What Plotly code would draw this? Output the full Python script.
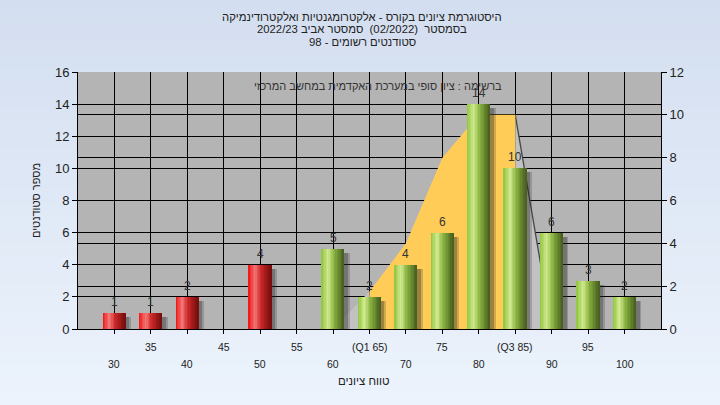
import plotly.graph_objects as go

# ---------------- data ----------------
grades = [30, 35, 40, 45, 50, 55, 60, 65, 70, 75, 80, 85, 90, 95, 100]
counts = [1, 1, 2, 0, 4, 0, 5, 2, 4, 6, 14, 10, 6, 3, 2]
tick_labels = ["30", "35", "40", "45", "50", "55", "60", "(Q1 65)", "70", "75",
               "80", "(Q3 85)", "90", "95", "100"]
pass_grade = 60
q1, q3 = 65, 85
curve_x = [60, 65, 70, 75, 80, 85, 90]
curve_y = [0, 1.75, 4, 8, 10, 10, 0]

title_lines = [
    "היסטוגרמת ציונים בקורס - אלקטרומגנטיות ואלקטרודינמיקה",
    "בסמסטר  (02/2022)  סמסטר אביב 2022/23",
    "סטודנטים רשומים - 98",
]
legend_text = "ברשימה : ציון סופי במערכת האקדמית במחשב המרכזי"
y_title = "מספר סטודנטים"
x_title = "טווח ציונים"

# ---------------- style ----------------
FONT = "Liberation Sans, Arial, sans-serif"
W, H = 720, 405
ML, MR, MT, MB = 78, 59, 72, 76
PW, PH = W - ML - MR, H - MT - MB
BW = 3.1
NSTRIPE = 16

green_stops = [(0, (150, 200, 70)), (0.28, (210, 234, 145)), (0.55, (140, 182, 66)), (1, (74, 98, 32))]
red_stops = [(0, (240, 28, 28)), (0.28, (242, 120, 120)), (0.55, (205, 40, 40)), (1, (120, 14, 14))]


def interp(stops, t):
    for (t0, c0), (t1, c1) in zip(stops[:-1], stops[1:]):
        if t <= t1:
            f = (t - t0) / (t1 - t0) if t1 > t0 else 0
            return "rgb(%d,%d,%d)" % tuple(round(a + (b - a) * f) for a, b in zip(c0, c1))
    return "rgb(%d,%d,%d)" % stops[-1][1]


fig = go.Figure()

# area (Q1..Q3 highlighted) on the right axis (y)
left_idx = [i for i, x in enumerate(curve_x) if x <= q1]
mid_idx = [i for i, x in enumerate(curve_x) if q1 <= x <= q3]
right_idx = [i for i, x in enumerate(curve_x) if x >= q3]
fig.add_trace(go.Scatter(x=[curve_x[i] for i in left_idx], y=[curve_y[i] for i in left_idx],
                         mode="lines", fill="tozeroy", fillcolor="rgb(194,194,194)",
                         line=dict(width=0), yaxis="y", hoverinfo="skip", showlegend=False))
fig.add_trace(go.Scatter(x=[curve_x[i] for i in right_idx], y=[curve_y[i] for i in right_idx],
                         mode="lines", fill="tozeroy", fillcolor="rgb(194,194,194)",
                         line=dict(width=1.3, color="rgb(70,70,70)"), yaxis="y",
                         hoverinfo="skip", showlegend=False))
fig.add_trace(go.Scatter(x=[curve_x[i] for i in mid_idx], y=[curve_y[i] for i in mid_idx],
                         mode="lines", fill="tozeroy", fillcolor="rgb(255,204,88)",
                         line=dict(width=0), yaxis="y", hoverinfo="skip", showlegend=False))

# shadows
for shift, alpha in [(0.75, 0.22), (0.5, 0.3)]:
    fig.add_trace(go.Bar(x=grades, y=[max(c - 0.25, 0) for c in counts], yaxis="y2",
                         width=BW, offset=-BW / 2 + shift,
                         marker=dict(color="rgba(40,40,40,%g)" % alpha, line=dict(width=0)),
                         hoverinfo="skip", showlegend=False))

# bars as gradient stripes
for k in range(NSTRIPE):
    t = k / (NSTRIPE - 1)
    cols = [interp(green_stops if g >= pass_grade else red_stops, t) for g in grades]
    wid = BW / NSTRIPE * (1.25 if k < NSTRIPE - 1 else 1.0)
    fig.add_trace(go.Bar(x=grades, y=counts, yaxis="y2", width=wid,
                         offset=-BW / 2 + k * BW / NSTRIPE,
                         marker=dict(color=cols, line=dict(width=0)),
                         showlegend=False))

# background gradient
shapes = []
NB = 30
top_c, bot_c = (211, 222, 240), (236, 243, 252)
y_top = 1 + MT / PH
y_bot = -MB / PH
for i in range(NB):
    f = i / (NB - 1)
    c = tuple(round(a + (b - a) * f) for a, b in zip(top_c, bot_c))
    y1 = y_top - (y_top - y_bot) * i / NB
    y0 = y_top - (y_top - y_bot) * (i + 1) / NB - 0.002
    shapes.append(dict(type="rect", xref="paper", yref="paper", x0=-ML / PW - 0.01, x1=1 + MR / PW + 0.01,
                       y0=y0, y1=y1, fillcolor="rgb(%d,%d,%d)" % c, line=dict(width=0), layer="below"))
shapes.append(dict(type="rect", xref="paper", yref="paper", x0=0, x1=1, y0=0, y1=1,
                   fillcolor="rgb(180,180,180)", line=dict(width=0), layer="below"))

annotations = []
for i, line in enumerate(title_lines):
    ypx = 17 + i * 12.5
    annotations.append(dict(text=line, xref="paper", yref="paper", x=(362 - ML) / PW,
                            y=(H - MB - ypx) / PH, xanchor="center", yanchor="middle",
                            showarrow=False, font=dict(family=FONT, size=11.3, color="#222222")))
annotations.append(dict(text=legend_text, xref="paper", yref="paper", x=(378 - ML) / PW,
                        y=(H - MB - 86) / PH, xanchor="center", yanchor="middle", showarrow=False,
                        font=dict(family=FONT, size=11, color="#333333")))
# value labels above bars
for g, c in zip(grades, counts):
    if c > 0:
        annotations.append(dict(text=str(c), xref="x", yref="y2", x=g, y=c, xanchor="center",
                                yanchor="middle", yshift=11, showarrow=False,
                                font=dict(family=FONT, size=12, color="#333333")))
# x tick labels in two staggered rows
for i, (g, t) in enumerate(zip(grades, tick_labels)):
    annotations.append(dict(text=t, xref="x", yref="paper", x=g, y=0, xanchor="center",
                            yanchor="middle", yshift=-(35 if i % 2 == 0 else 18), showarrow=False,
                            font=dict(family=FONT, size=10.5, color="#222222")))
annotations.append(dict(text=x_title, xref="paper", yref="paper", x=(364 - ML) / PW, y=0,
                        xanchor="center", yanchor="middle", yshift=-52, showarrow=False,
                        font=dict(family=FONT, size=11.5, color="#222222")))

fig.update_layout(
    width=W, height=H,
    margin=dict(l=ML, r=MR, t=MT, b=MB, pad=0, autoexpand=False),
    paper_bgcolor="rgb(224,233,246)",
    plot_bgcolor="rgb(180,180,180)",
    barmode="overlay",
    bargap=0,
    font=dict(family=FONT, color="#222222"),
    shapes=shapes,
    annotations=annotations,
    xaxis=dict(range=[25, 105], tickmode="array", tickvals=grades, showticklabels=False,
               showgrid=True, gridcolor="black", gridwidth=1, zeroline=False,
               showline=True, linecolor="black", linewidth=1, automargin=False,
               ticks="outside", ticklen=4, tickcolor="black"),
    yaxis=dict(range=[0, 12], dtick=2, side="right", showgrid=True, gridcolor="black", gridwidth=1,
               zeroline=False, showline=True, linecolor="black", linewidth=1, automargin=False,
               ticks="outside", ticklen=5, tickcolor="black",
               tickfont=dict(family=FONT, size=13, color="#222222")),
    yaxis2=dict(range=[0, 16], dtick=2, side="left", overlaying="y", showgrid=True, gridcolor="black",
                gridwidth=1, zeroline=False, showline=True, linecolor="black", linewidth=1,
                automargin=False, ticks="outside", ticklen=5, tickcolor="black",
                tickfont=dict(family=FONT, size=13, color="#222222"),
                title=dict(text=y_title, font=dict(family=FONT, size=11, color="#222222"), standoff=12)),
)

fig.write_html("out.html", config={"displayModeBar": False},
               post_script="document.body.style.margin='0';document.body.style.padding='0';")
